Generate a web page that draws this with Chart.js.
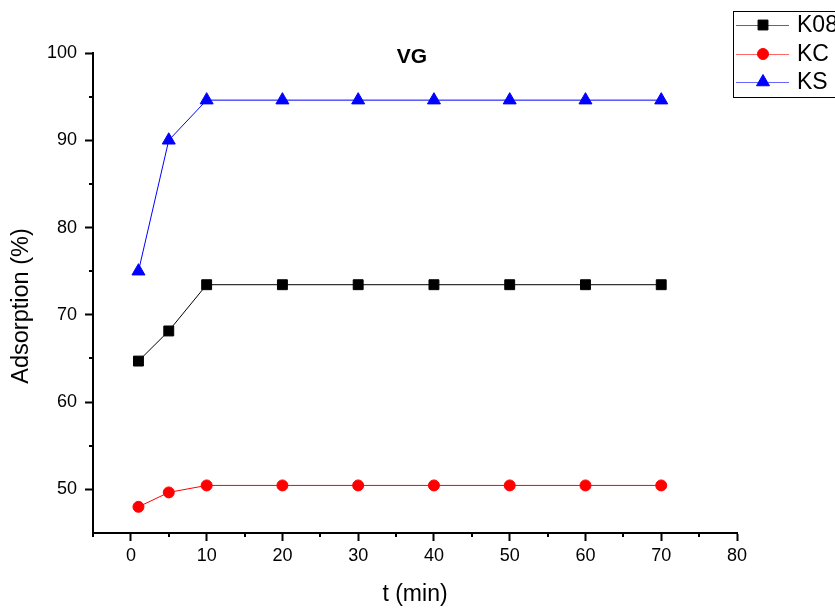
<!DOCTYPE html>
<html><head><meta charset="utf-8">
<script src="https://cdn.jsdelivr.net/npm/chart.js@4"></script>
<style>html,body{margin:0;padding:0;background:#fff;}#wrap{width:835px;height:608px;}</style>
</head><body><div id="wrap"><canvas id="c" width="835" height="608"></canvas></div>
<script>
const times = [1, 5, 10, 20, 30, 40, 50, 60, 70];
const k08 = [64.7, 68.15, 73.45, 73.45, 73.45, 73.45, 73.45, 73.45, 73.45];
const kc  = [48.0, 49.65, 50.45, 50.45, 50.45, 50.45, 50.45, 50.45, 50.45];
const ks  = [75.0, 90.0, 94.6, 94.6, 94.6, 94.6, 94.6, 94.6, 94.6];
const seriesNames = ['K08', 'KC', 'KS'];
const xTicks = [0, 10, 20, 30, 40, 50, 60, 70, 80];
const xMinor = [-5, 5, 15, 25, 35, 45, 55, 65, 75];
const yTicks = [50, 60, 70, 80, 90, 100];
const yMinor = [55, 65, 75, 85, 95];
const chartTitle = 'VG';
const xTitle = 't (min)';
const yTitle = 'Adsorption (%)';

const FONT = "'Liberation Sans', Arial, sans-serif";
Chart.defaults.font.family = FONT;
Chart.defaults.color = '#000';

const styles = [
  {color: '#000000', shape: 'rect', radius: 7},
  {color: '#ff0000', shape: 'circle', radius: 5.5},
  {color: '#0000ff', shape: 'triangle', radius: 7.5}
];
const values = [k08, kc, ks];

const datasets = values.map((v, i) => ({
  label: seriesNames[i],
  data: times.map((t, j) => ({x: t, y: v[j]})),
  borderColor: styles[i].color,
  backgroundColor: styles[i].color,
  pointBackgroundColor: styles[i].color,
  pointBorderColor: styles[i].color,
  pointStyle: styles[i].shape,
  pointRadius: styles[i].radius,
  pointBorderWidth: 1,
  borderWidth: 1,
  tension: 0
}));

function drawMarker(ctx, shape, x, y, r, color) {
  ctx.save();
  ctx.fillStyle = color; ctx.strokeStyle = color; ctx.lineWidth = 1;
  ctx.beginPath();
  if (shape === 'rect') {
    const s = r * Math.SQRT1_2;
    ctx.rect(x - s, y - s, 2 * s, 2 * s);
  } else if (shape === 'circle') {
    ctx.arc(x, y, r, 0, Math.PI * 2);
  } else {
    ctx.moveTo(x, y - r);
    ctx.lineTo(x + r * Math.sin(Math.PI * 2 / 3), y - r * Math.cos(Math.PI * 2 / 3));
    ctx.lineTo(x + r * Math.sin(Math.PI * 4 / 3), y - r * Math.cos(Math.PI * 4 / 3));
    ctx.closePath();
  }
  ctx.fill(); ctx.stroke();
  ctx.restore();
}

const extras = {
  id: 'extras',
  afterDraw(chart) {
    const ctx = chart.ctx;
    const xs = chart.scales.x, ys = chart.scales.y;
    const ca = chart.chartArea;
    ctx.save();
    // minor ticks
    ctx.strokeStyle = '#000'; ctx.lineWidth = 2;
    xMinor.forEach(v => {
      const px = Math.round(xs.getPixelForValue(v));
      ctx.beginPath(); ctx.moveTo(px, ca.bottom); ctx.lineTo(px, ca.bottom + 4); ctx.stroke();
    });
    yMinor.forEach(v => {
      const py = Math.round(ys.getPixelForValue(v));
      ctx.beginPath(); ctx.moveTo(ca.left, py); ctx.lineTo(ca.left - 4, py); ctx.stroke();
    });
    // title
    ctx.fillStyle = '#000';
    ctx.font = 'bold 21px ' + FONT;
    ctx.textAlign = 'center'; ctx.textBaseline = 'middle';
    ctx.fillText(chartTitle, (ca.left + ca.right) / 2 - 3, ca.top + 4);
    // y axis title
    ctx.save();
    ctx.translate(22, (ca.top + ca.bottom) / 2 + 13);
    ctx.rotate(-Math.PI / 2);
    ctx.font = '23.5px ' + FONT;
    ctx.fillText(yTitle, 0, 0);
    ctx.restore();
    // legend
    const bx = 733, by = 11, bh = 86;
    ctx.lineWidth = 1; ctx.strokeStyle = '#000';
    ctx.strokeRect(bx + 0.5, by + 0.5, 200, bh);
    const rows = [25, 54, 82];
    ctx.font = '23px ' + FONT;
    ctx.textAlign = 'left';
    seriesNames.forEach((name, i) => {
      const y = rows[i];
      ctx.strokeStyle = styles[i].color; ctx.lineWidth = 1;
      ctx.globalAlpha = 0.6;
      ctx.beginPath(); ctx.moveTo(736, y + 0.5); ctx.lineTo(789, y + 0.5); ctx.stroke();
      ctx.globalAlpha = 1;
      drawMarker(ctx, styles[i].shape, 763, y, styles[i].radius, styles[i].color);
      ctx.fillStyle = '#000';
      ctx.fillText(name, 797, y + 1);
    });
    ctx.restore();
  }
};

new Chart(document.getElementById('c'), {
  type: 'line',
  data: {datasets},
  plugins: [extras],
  options: {
    responsive: false,
    animation: false,
    events: [],
    layout: {padding: {left: 0, top: 53, right: 98, bottom: 0}},
    plugins: {legend: {display: false}, tooltip: {enabled: false}, title: {display: false}},
    scales: {
      x: {
        type: 'linear', min: -5, max: 80,
        afterBuildTicks: s => { s.ticks = xTicks.map(v => ({value: v})); },
        afterFit: s => { s.height = 75; },
        grid: {display: true, drawOnChartArea: false, drawTicks: true, tickLength: 8, tickWidth: 2, tickColor: '#000'},
        border: {display: true, color: '#000', width: 2},
        ticks: {font: {size: 18}, padding: 4, color: '#000', maxRotation: 0},
        title: {display: true, text: xTitle, font: {size: 23}, color: '#000', padding: {top: 0, bottom: 0}}
      },
      y: {
        type: 'linear', min: 45, max: 100,
        afterBuildTicks: s => { s.ticks = yTicks.map(v => ({value: v})); },
        afterFit: s => { s.width = 93; },
        grid: {display: true, drawOnChartArea: false, drawTicks: true, tickLength: 8, tickWidth: 2, tickColor: '#000'},
        border: {display: true, color: '#000', width: 2},
        ticks: {font: {size: 18}, padding: 8, color: '#000'},
        title: {display: false}
      }
    }
  }
});
</script></body></html>
